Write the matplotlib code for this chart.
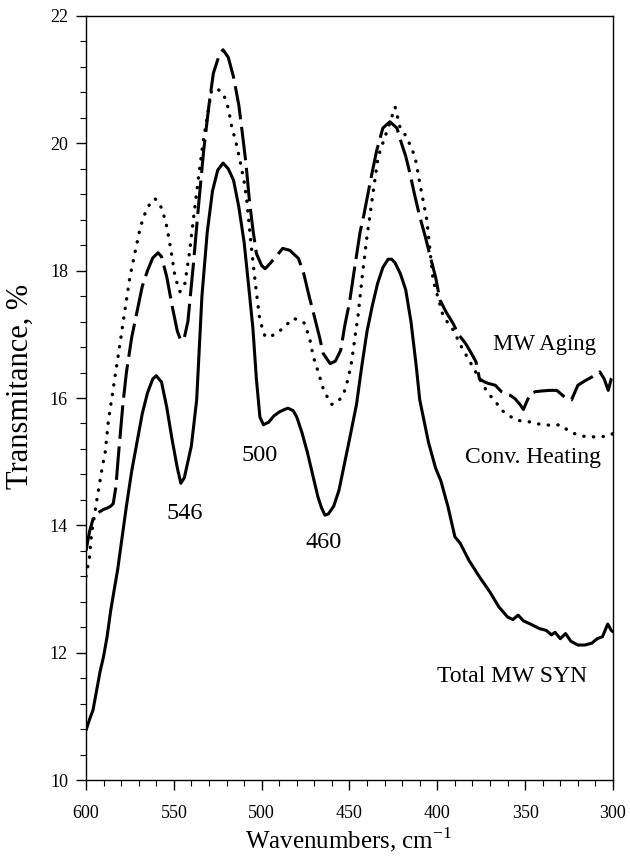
import matplotlib
matplotlib.use('Agg')
import matplotlib.pyplot as plt
from matplotlib.ticker import MultipleLocator

plt.rcParams['font.family'] = ['Liberation Serif', 'DejaVu Serif']

# Total MW SYN (solid)
syn_wn = [600, 598, 596, 594, 592, 590, 588, 586, 584, 582, 580, 577, 574, 571, 568, 565, 562, 560,
          557, 554, 551, 548, 546, 544, 542, 540, 537, 534, 531, 528, 525, 522, 519, 516, 513, 510,
          507, 505, 503, 501, 499, 496, 493, 490, 487, 485, 482, 480, 477, 474, 471, 468, 466, 464,
          462, 459, 456, 453, 450, 446, 443, 440, 437, 434, 431, 428, 426, 424, 421, 418, 415, 412,
          410, 405, 401, 398, 394, 390, 387, 382, 376, 370, 365, 360, 357, 354, 351, 347, 342, 338,
          335, 333, 330, 327, 324, 320, 316, 312, 309, 306, 303, 301, 300]
syn_t = [10.78, 10.95, 11.1, 11.4, 11.7, 11.94, 12.25, 12.65, 12.98, 13.3, 13.7, 14.3, 14.85, 15.3,
         15.75, 16.08, 16.3, 16.35, 16.25, 15.85, 15.35, 14.9, 14.66, 14.75, 15.0, 15.25, 15.97, 17.6,
         18.6, 19.25, 19.58, 19.69, 19.6, 19.42, 19.0, 18.45, 17.65, 17.1, 16.3, 15.7, 15.58, 15.62,
         15.72, 15.78, 15.82, 15.84, 15.8, 15.7, 15.45, 15.15, 14.8, 14.45, 14.28, 14.16, 14.18, 14.3,
         14.55, 14.95, 15.35, 15.9, 16.5, 17.05, 17.45, 17.8, 18.05, 18.18, 18.18, 18.12, 17.95, 17.7,
         17.2, 16.5, 15.97, 15.3, 14.9, 14.7, 14.3, 13.82, 13.72, 13.45, 13.19, 12.95, 12.72, 12.56,
         12.52, 12.59, 12.5, 12.45, 12.38, 12.35, 12.28, 12.32, 12.22, 12.3, 12.18, 12.12, 12.12,
         12.15, 12.22, 12.25, 12.45, 12.35, 12.33]

# MW Aging (dashed)
age_wn = [600, 598, 596, 593, 590, 588, 586, 584.5, 583, 581.6, 579, 577, 574, 571, 568, 565, 562,
          559, 557, 554, 551, 548, 546, 544, 542, 539, 536, 533, 530, 527.5, 524, 522, 519, 516, 513,
          511, 509, 507, 505, 503, 500, 498, 495, 491, 488, 484, 479, 476, 473, 470, 467, 465, 461,
          458, 455, 452.6, 450, 447, 444, 442, 438, 434.5, 431, 427, 423, 420.4, 418, 415.6, 413, 410,
          407, 404, 401, 398.5, 395, 391, 388, 384, 381, 378, 376, 373, 371, 367, 363.5, 359, 355.8,
          353, 351, 349, 347, 344, 340.7, 336, 332, 329, 326.5, 323.6, 320, 316, 312, 307.5, 305,
          302.7, 300.9, 300]
age_t = [13.6, 13.9, 14.1, 14.2, 14.25, 14.27, 14.3, 14.34, 14.6, 15.08, 15.9, 16.4, 16.95, 17.35,
         17.75, 18.0, 18.2, 18.28, 18.22, 17.9, 17.45, 17.05, 16.9, 16.95, 17.2, 18.06, 19.0, 19.89,
         20.6, 21.1, 21.4, 21.47, 21.35, 21.04, 20.6, 20.16, 19.7, 19.11, 18.65, 18.27, 18.08, 18.03,
         18.12, 18.25, 18.35, 18.32, 18.19, 17.95, 17.6, 17.28, 16.95, 16.7, 16.54, 16.58, 16.75,
         17.15, 17.5, 18.06, 18.6, 18.85, 19.42, 19.89, 20.24, 20.34, 20.24, 20.0, 19.8, 19.53, 19.2,
         18.85, 18.55, 18.22, 17.9, 17.54, 17.35, 17.17, 17.0, 16.86, 16.72, 16.57, 16.3, 16.25,
         16.23, 16.2, 16.1, 16.05, 15.99, 15.9, 15.82, 15.95, 16.07, 16.1, 16.11, 16.12, 16.12, 16.05,
         15.99, 15.97, 16.2, 16.27, 16.33, 16.41, 16.3, 16.12, 16.31, 16.35]

# Conv. Heating (dotted)
conv_wn = [600, 598, 596.8, 594.9, 594, 591, 589, 587.3, 584.5, 580.6, 578, 575, 572, 569, 566, 563,
           560.7, 558, 556, 554, 551.5, 549.3, 546.5, 543.7, 541, 538.9, 536, 533.2, 530.5, 528.5,
           525, 521.8, 519, 517, 514.5, 512.4, 510, 508.5, 505.7, 502.9, 501, 498, 495, 491.5, 487,
           482, 478, 475.4, 472.5, 470.6, 467.8, 465, 462, 460.2, 457, 453.5, 450.7, 448.8, 446.3,
           445, 443, 440.3, 437.4, 433.7, 429.8, 424, 421.3, 417.5, 412.7, 409.6, 406, 402.4, 396.6,
           391, 386.2, 380, 376, 371, 367, 363.5, 359, 354.9, 348.3, 344, 339.7, 334, 330, 326,
           324.5, 320, 317, 312, 307.5, 304, 300.9, 300]
conv_t = [13.2, 13.5, 13.88, 14.2, 14.37, 14.87, 15.16, 15.63, 16.15, 16.86, 17.35, 17.9, 18.3,
          18.69, 18.93, 19.08, 19.13, 19.05, 18.9, 18.69, 18.3, 17.9, 17.67, 17.8, 18.3, 18.8, 19.45,
          20.05, 20.5, 20.84, 20.85, 20.78, 20.55, 20.26, 20.0, 19.74, 19.4, 19.11, 18.32, 17.64,
          17.22, 16.96, 16.97, 17.01, 17.12, 17.25, 17.22, 17.17, 16.91, 16.65, 16.41, 16.15, 15.98,
          15.9, 15.93, 16.05, 16.31, 16.57, 17.07, 17.32, 17.85, 18.48, 19.06, 19.79, 20.1, 20.57,
          20.26, 20.1, 19.79, 19.32, 18.8, 17.85, 17.28, 17.07, 16.8, 16.5, 16.3, 16.07, 15.95,
          15.81, 15.72, 15.65, 15.63, 15.6, 15.58, 15.57, 15.58, 15.5, 15.47, 15.42, 15.4, 15.39,
          15.39, 15.4, 15.42, 15.45]

fig = plt.figure(figsize=(6.3, 8.6), dpi=100)
ax = fig.add_axes([0.1365, 0.093, 0.8365, 0.8884])

ax.plot(syn_wn, syn_t, color='black', lw=2.2, solid_capstyle='round')
ax.plot(age_wn, age_t, color='black', lw=2.2, linestyle=(0, (11, 2.5)))
ax.plot(conv_wn, conv_t, color='black', lw=2.4, linestyle=(0, (0.1, 2.8)), dash_capstyle='round')

ax.set_xlim(600, 300)
ax.set_ylim(10, 22)
ax.xaxis.set_major_locator(MultipleLocator(50))
ax.xaxis.set_minor_locator(MultipleLocator(10))
ax.yaxis.set_major_locator(MultipleLocator(2))
ax.yaxis.set_minor_locator(MultipleLocator(0.4))
ax.tick_params(which='major', direction='out', length=7, width=1, labelsize=13, top=False, right=False)
ax.tick_params(which='minor', direction='out', length=4, width=0.8, top=False, right=False)
ax.tick_params(axis='x', which='major', pad=11)
ax.tick_params(axis='y', which='major', pad=6)
for sp in ax.spines.values():
    sp.set_linewidth(1.0)

ax.set_ylabel('Transmitance, %', fontsize=22)
ax.yaxis.set_label_coords(-0.097, 0.515)
fig.text(349 / 630, 1 - 848 / 860, 'Wavenumbers, cm$^{\\mathregular{-1}}$', fontsize=18,
         ha='center', va='baseline')

ax.text(339, 16.75, 'MW Aging', fontsize=16.5, ha='center', va='baseline')
ax.text(345.3, 14.98, 'Conv. Heating', fontsize=17, ha='center', va='baseline')
ax.text(357.5, 11.54, 'Total MW SYN', fontsize=17, ha='center', va='baseline')
ax.text(543.7, 14.1, '546', fontsize=17.5, ha='center', va='baseline')
ax.text(501.4, 15.01, '500', fontsize=17.5, ha='center', va='baseline')
ax.text(465, 13.64, '460', fontsize=17.5, ha='center', va='baseline')

fig.savefig('out.png', dpi=100)
